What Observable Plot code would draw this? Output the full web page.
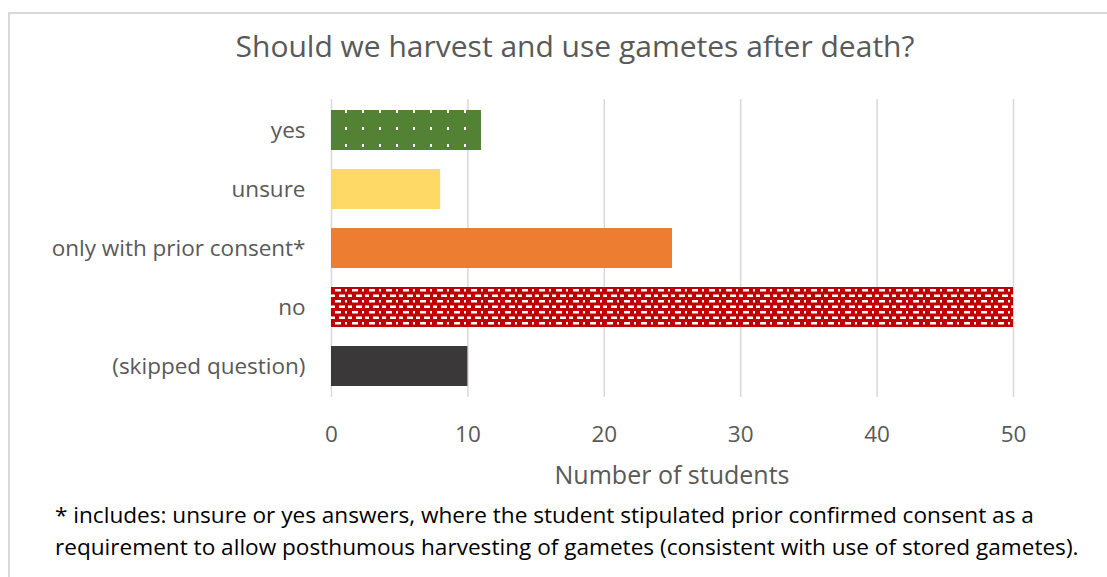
<!DOCTYPE html>
<html>
<head>
<meta charset="utf-8">
<script src="https://cdn.jsdelivr.net/npm/d3@7"></script>
<script src="https://cdn.jsdelivr.net/npm/@observablehq/plot@0.6"></script>
<style>
  html, body { margin: 0; padding: 0; background: #fff; overflow: hidden; width: 1107px; height: 577px; }
  body { font-family: "Open Sans", "Noto Sans", sans-serif; position: relative; }
  #frame { position: absolute; left: 8px; top: 12px; width: 1120px; height: 600px; border: 2px solid #d9d9d9; box-sizing: border-box; }
  #title { position: absolute; left: 0; width: 1150px; top: 26px; text-align: center; font-size: 30px; color: #595959; line-height: 40px; }
  #chart { position: absolute; left: 0; top: 80px; }
  #xlabel { position: absolute; left: 0; width: 1344px; top: 457px; text-align: center; font-size: 25px; color: #595959; line-height: 34px; }
  #caption { position: absolute; left: 55px; top: 499px; font-size: 22.6px; color: #000; line-height: 32px; white-space: nowrap; }
</style>
</head>
<body>
<div id="frame"></div>
<div id="title">Should we harvest and use gametes after death?</div>
<div id="chart"></div>
<div id="xlabel">Number of students</div>
<div id="caption">* includes: unsure or yes answers, where the student stipulated prior confirmed consent as a<br>requirement to allow posthumous harvesting of gametes (consistent with use of stored gametes).</div>
<script>
const categories = ["yes", "unsure", "only with prior consent*", "no", "(skipped question)"];
const counts = [11, 8, 25, 50, 10];
const fills = ["url(#dotsGreen)", "#ffd966", "#ed7d31", "url(#dashRed)", "#3a3838"];
const xTicks = [0, 10, 20, 30, 40, 50];

const data = categories.map((c, i) => ({category: c, count: counts[i], fill: fills[i]}));

const plot = Plot.plot({
  width: 1107,
  height: 380,
  marginLeft: 331,
  marginRight: 94,
  marginTop: 19,
  marginBottom: 63,
  style: {fontFamily: '"Open Sans", "Noto Sans", sans-serif', fontSize: "22.5px", color: "#595959", background: "transparent"},
  x: {domain: [0, 50], ticks: xTicks},
  y: {domain: categories, paddingInner: 0.33, paddingOuter: 0.17},
  marks: [
    Plot.gridX(xTicks, {stroke: "#d9d9d9", strokeOpacity: 1, strokeWidth: 1.5}),
    Plot.barX(data, {x: "count", y: "category", fill: d => d.fill}),
    Plot.axisX({ticks: xTicks, tickSize: 0, tickPadding: 29, label: null, fill: "#595959"}),
    Plot.axisY({tickSize: 0, tickPadding: 26, label: null, fill: "#595959"})
  ]
});

// SVG patterns for the hatched bars
const defs = d3.select(plot).insert("defs", ":first-child");
const g = defs.append("pattern").attr("id", "dotsGreen").attr("patternUnits", "userSpaceOnUse")
  .attr("x", 5).attr("y", 13).attr("width", 17).attr("height", 17);
g.append("rect").attr("width", 17).attr("height", 17).attr("fill", "#548235");
g.append("rect").attr("x", 0).attr("y", 0).attr("width", 2).attr("height", 3).attr("fill", "#fff");

const r = defs.append("pattern").attr("id", "dashRed").attr("patternUnits", "userSpaceOnUse")
  .attr("x", 333).attr("y", 209).attr("width", 17).attr("height", 11);
r.append("rect").attr("width", 17).attr("height", 11).attr("fill", "#c00000");
r.append("rect").attr("x", 2).attr("y", 0).attr("width", 6).attr("height", 2.5).attr("fill", "#fff");
r.append("rect").attr("x", 12).attr("y", 0).attr("width", 2).attr("height", 2.5).attr("fill", "#fff");
r.append("rect").attr("x", 0).attr("y", 5.5).attr("width", 2).attr("height", 2.5).attr("fill", "#fff");
r.append("rect").attr("x", 6).attr("y", 5.5).attr("width", 6).attr("height", 2.5).attr("fill", "#fff");
r.append("rect").attr("x", 15).attr("y", 5.5).attr("width", 2).attr("height", 2.5).attr("fill", "#fff");

document.getElementById("chart").appendChild(plot);
</script>
</body>
</html>
